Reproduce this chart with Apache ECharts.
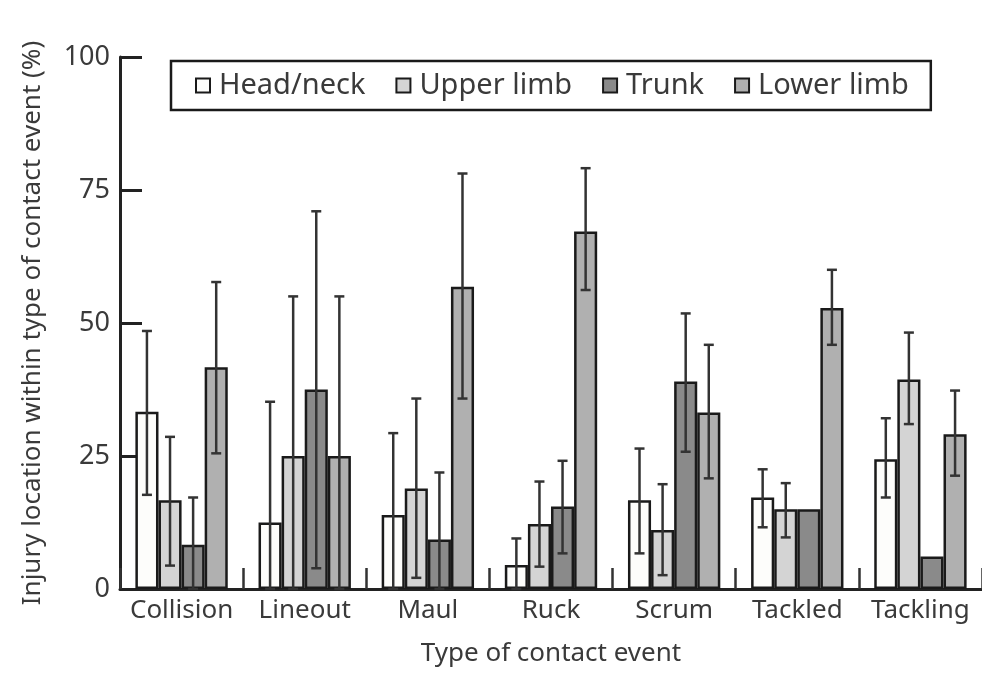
<!DOCTYPE html>
<html>
<head>
<meta charset="UTF-8">
<title>Injury location by contact event</title>
<script src="https://cdn.jsdelivr.net/npm/echarts@6/dist/echarts.min.js"></script>
<style>
    html, body { margin: 0; padding: 0; background: #fff; }
    #chart { width: 982px; height: 677px; }
</style>
</head>
<body>
<div id="chart"></div>
<script>
    var categories = ['Collision', 'Lineout', 'Maul', 'Ruck', 'Scrum', 'Tackled', 'Tackling'];
    var seriesNames = ['Head/neck', 'Upper limb', 'Trunk', 'Lower limb'];
    var yTicks = [0, 25, 50, 75, 100];

    // mean % per contact event
    var headNeck  = [33.3, 12.5, 13.9, 4.5, 16.7, 17.2, 24.4];
    var upperLimb = [16.7, 25.0, 18.9, 12.2, 11.1, 15.0, 39.4];
    var trunk     = [8.3, 37.5, 9.3, 15.5, 39.0, 15.0, 6.1];
    var lowerLimb = [41.7, 25.0, 56.8, 67.2, 33.2, 52.8, 29.1];

    // 95% CI [low, high], null where no bar drawn
    var headNeckCI  = [[17.7, 48.5], [0, 35.2], [0, 29.3], [0, 9.5], [6.7, 26.4], [11.6, 22.5], [17.2, 32.1]];
    var upperLimbCI = [[4.4, 28.6], [0, 55.0], [2.1, 35.8], [4.2, 20.2], [2.6, 19.7], [9.7, 19.9], [31.0, 48.2]];
    var trunkCI     = [[0, 17.2], [3.9, 71.0], [0, 21.9], [6.7, 24.1], [25.8, 51.8], null, null];
    var lowerLimbCI = [[25.5, 57.7], [0, 55.0], [35.8, 78.1], [56.2, 79.1], [20.8, 45.9], [45.9, 60.0], [21.3, 37.3]];

    var fills = ['#fdfdfb', '#d4d4d4', '#8a8a8a', '#b0b0b0'];
    var values = [headNeck, upperLimb, trunk, lowerLimb];
    var cis = [headNeckCI, upperLimbCI, trunkCI, lowerLimbCI];
    var font = 'Noto Sans';
    var ink = '#1a1a1a';
    var txt = '#3a3a3a';

    var chart = echarts.init(document.getElementById('chart'), null, {renderer: 'canvas'});

    function errorSeries(idx) {
        var data = [];
        cis[idx].forEach(function (ci, i) {
            if (ci) data.push([i, ci[0], ci[1]]);
        });
        return {
            type: 'custom',
            z: 5,
            silent: true,
            encode: {x: 0, y: [1, 2]},
            data: data,
            renderItem: function (params, api) {
                var cat = api.value(0);
                var lo = api.coord([cat, api.value(1)]);
                var hi = api.coord([cat, api.value(2)]);
                var band = api.size([1, 0])[0];
                var barW = band * 0.75 / 4;
                var x = lo[0] + (idx - 1.5) * barW;
                var half = 5;
                var st = {stroke: '#333', lineWidth: 2.5};
                return {
                    type: 'group',
                    children: [
                        {type: 'line', shape: {x1: x, y1: hi[1], x2: x, y2: lo[1]}, style: st},
                        {type: 'line', shape: {x1: x - half, y1: hi[1], x2: x + half, y2: hi[1]}, style: st},
                        {type: 'line', shape: {x1: x - half, y1: lo[1], x2: x + half, y2: lo[1]}, style: st}
                    ]
                };
            }
        };
    }

    var series = [];
    seriesNames.forEach(function (name, i) {
        series.push({
            name: name,
            type: 'bar',
            data: values[i],
            barGap: 0,
            barCategoryGap: '25%',
            itemStyle: {color: fills[i], borderColor: ink, borderWidth: 2.5}
        });
    });
    seriesNames.forEach(function (name, i) {
        series.push(errorSeries(i));
    });

    chart.setOption({
        animation: false,
        textStyle: {fontFamily: font},
        legend: {
            data: seriesNames,
            left: 171,
            top: 61,
            orient: 'horizontal',
            icon: 'rect',
            itemWidth: 14,
            itemHeight: 14,
            itemGap: 30,
            borderColor: ink,
            borderWidth: 2.5,
            padding: [9, 22, 9, 24],
            textStyle: {fontFamily: font, fontSize: 29, color: txt, padding: [0, 0, 0, 4], lineHeight: 31}
        },
        grid: {left: 120, top: 57, width: 869, height: 532},
        xAxis: {
            type: 'category',
            data: categories,
            name: 'Type of contact event',
            nameLocation: 'middle',
            nameGap: 52,
            nameTextStyle: {fontFamily: font, fontSize: 26, color: txt},
            axisLine: {show: true, lineStyle: {color: '#222', width: 3}},
            axisTick: {show: true, inside: true, interval: 0, length: 21, lineStyle: {color: '#333', width: 2.5}},
            axisLabel: {interval: 0, fontFamily: font, fontSize: 26, color: txt, margin: 9}
        },
        yAxis: {
            type: 'value',
            min: yTicks[0],
            max: yTicks[yTicks.length - 1],
            interval: 25,
            name: 'Injury location within type of contact event (%)',
            nameLocation: 'middle',
            nameGap: 74,
            nameTextStyle: {fontFamily: font, fontSize: 26, color: txt},
            splitLine: {show: false},
            axisLine: {show: true, lineStyle: {color: '#222', width: 3}},
            axisTick: {show: true, inside: true, length: 22, lineStyle: {color: '#222', width: 3}},
            axisLabel: {fontFamily: font, fontSize: 27, color: txt, margin: 10}
        },
        series: series
    });
</script>
</body>
</html>
